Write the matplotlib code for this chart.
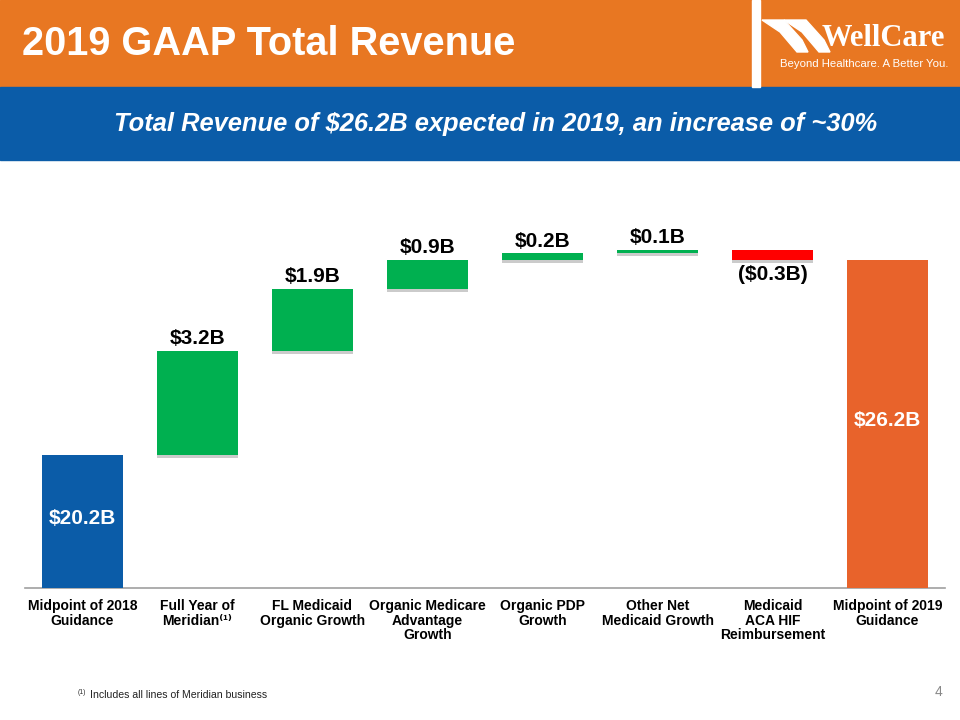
import matplotlib
matplotlib.use("Agg")
import matplotlib.pyplot as plt
from matplotlib.patches import Rectangle, Polygon
import matplotlib.patheffects as pe

# dati (miliardi di dollari)
categories = ["Midpoint of 2018\nGuidance", "Full Year of\nMeridian\u207d\u00b9\u207e",
              "FL Medicaid\nOrganic Growth", "Organic Medicare\nAdvantage\nGrowth",
              "Organic PDP\nGrowth", "Other Net\nMedicaid Growth",
              "Medicaid\nACA HIF\nReimbursement", "Midpoint of 2019\nGuidance"]
start_value = 20.2
changes = [3.2, 1.9, 0.9, 0.2, 0.1, -0.3]
end_value = 26.2
labels = ["$20.2B", "$3.2B", "$1.9B", "$0.9B", "$0.2B", "$0.1B", "($0.3B)", "$26.2B"]

ORANGE = "#E87722"
BLUE = "#0B5CA8"
GREEN = "#00B050"
RED = "#FF0000"
BAR_ORANGE = "#E8632B"
FONT = ["Liberation Sans", "DejaVu Sans"]

plt.rcParams["font.family"] = FONT

fig = plt.figure(figsize=(9.6, 7.2), dpi=100)

# intestazione
fig.patches.append(Rectangle((0, 1 - 87 / 720), 1, 87 / 720, transform=fig.transFigure,
                             color=ORANGE, zorder=0))
fig.patches.append(Rectangle((752 / 960, 1 - 87 / 720), 8 / 960, 87 / 720,
                             transform=fig.transFigure, color="white", zorder=1))
fig.patches.append(Rectangle((0, 1 - 160 / 720), 1, 73 / 720, transform=fig.transFigure,
                             color=BLUE, zorder=0))
fig.text(22 / 960, 1 - 44 / 720, "2019 GAAP Total Revenue", color="white", fontsize=28.6,
         fontweight="bold", va="center", ha="left")
fig.text(496 / 960, 1 - 124 / 720, "Total Revenue of $26.2B expected in 2019, an increase of ~30%",
         color="white", fontsize=18.4, fontweight="bold", fontstyle="italic",
         va="center", ha="center")

# logo (approssimato)
def fpt(x, y):
    return (x / 960, 1 - y / 720)

for dx in (0, 22):
    pts = [fpt(762 + dx, 20), fpt(784 + dx, 20), fpt(802 + dx, 40), fpt(808 + dx, 52),
           fpt(797 + dx, 52), fpt(780 + dx, 32)]
    fig.patches.append(Polygon(pts, closed=True, transform=fig.transFigure,
                               color="white", zorder=2))
fig.text(822 / 960, 1 - 38 / 720, "WellCare", color="white", fontsize=22,
         fontweight="bold", family=["Liberation Serif", "DejaVu Serif"],
         va="center", ha="left")
fig.text(948 / 960, 1 - 64 / 720, "Beyond Healthcare. A Better You.", color="white",
         fontsize=8.2, va="center", ha="right")

# grafico a cascata
ax = fig.add_axes([25 / 960, 132 / 720, 920 / 960, 0.5143])
y_min, y_max = 16.1, 27.5

bottoms = [0]
heights = [start_value]
running = start_value
for c in changes:
    bottoms.append(running if c >= 0 else running + c)
    heights.append(abs(c))
    running += c
bottoms.append(0)
heights.append(end_value)
colors = [BLUE] + [GREEN if c >= 0 else RED for c in changes] + [BAR_ORANGE]

x = list(range(len(categories)))
shadow = [pe.SimplePatchShadow(offset=(0, -2), shadow_rgbFace="#999999", alpha=0.5), pe.Normal()]
bars = ax.bar(x, heights, bottom=bottoms, width=0.71, color=colors, zorder=3)
for b in bars[1:-1]:
    b.set_path_effects(shadow)

for i in x:
    top = bottoms[i] + heights[i]
    if i == 0 or i == len(x) - 1:
        ax.text(i, (y_min + top) / 2 + 0.1, labels[i], color="white", fontsize=15,
                fontweight="bold", ha="center", va="center", zorder=4)
    elif changes[i - 1] >= 0:
        ax.annotate(labels[i], (i, top), xytext=(0, 2), textcoords="offset points",
                    fontsize=15, fontweight="bold", ha="center", va="bottom")
    else:
        ax.annotate(labels[i], (i, bottoms[i]), xytext=(0, -4), textcoords="offset points",
                    fontsize=15, fontweight="bold", ha="center", va="top")

ax.set_xlim(-0.5, len(x) - 0.5)
ax.set_ylim(y_min, y_max)
ax.set_xticks(x)
ax.set_xticklabels(categories, fontsize=10, fontweight="bold", linespacing=1.05)
ax.tick_params(axis="x", length=0, pad=8)
ax.set_yticks([])
for s in ["top", "left", "right"]:
    ax.spines[s].set_visible(False)
ax.spines["bottom"].set_color("#A0A0A0")
ax.spines["bottom"].set_linewidth(1.2)

# note a piè di pagina
fig.text(78 / 960, 1 - 692 / 720, "(1)", fontsize=5, color="#333333", va="center")
fig.text(90 / 960, 1 - 695 / 720, "Includes all lines of Meridian business", fontsize=7.6,
         color="#222222", va="center")
fig.text(942 / 960, 1 - 692 / 720, "4", fontsize=10, color="#888888", va="center", ha="right")

fig.savefig("out.png", dpi=100)
